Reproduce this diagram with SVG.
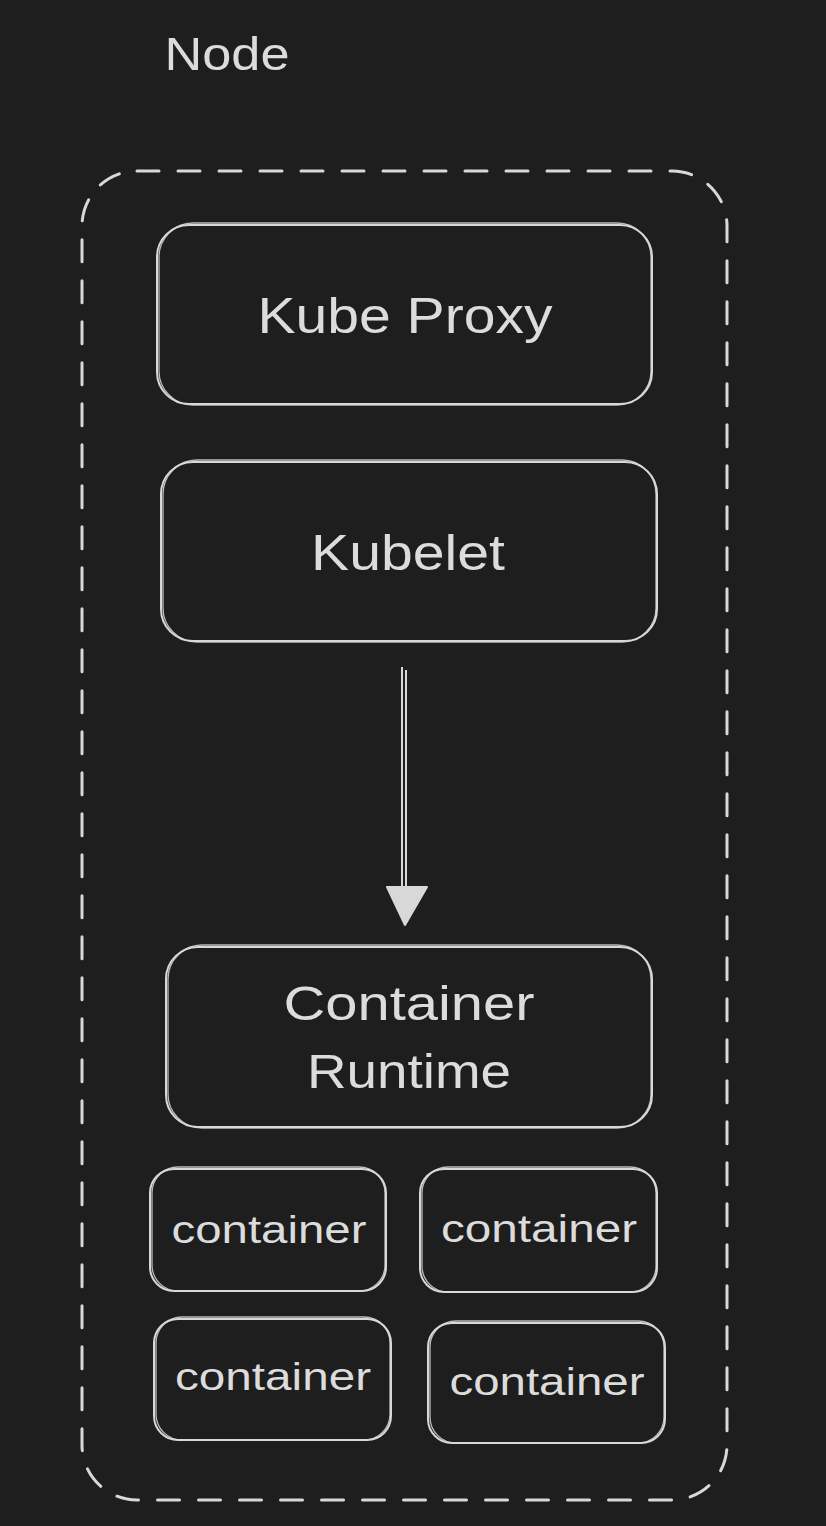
<svg xmlns="http://www.w3.org/2000/svg" width="826" height="1526" viewBox="0 0 826 1526">
<defs>
<style>
.bg{fill:#1e1e1e}
.box{fill:none;stroke:#d8d8d8;stroke-width:2}
.box2{fill:none;stroke:#d8d8d8;stroke-width:1.3;opacity:0.85}
.dash{fill:none;stroke:#d8d8d8;stroke-width:3;stroke-dasharray:22 19;stroke-linecap:round}
.t{fill:#dcdcdc;font-family:"Liberation Sans",Arial,sans-serif;text-anchor:middle}
.big{font-size:50px}
.small{font-size:38px}
.line{stroke:#d8d8d8;stroke-width:2;fill:none}
.head{fill:#d8d8d8;stroke:#d8d8d8;stroke-width:2;stroke-linejoin:round}
</style>
</defs>
<rect class="bg" x="0" y="0" width="826" height="1526"/>
<g id="label-node">
<text class="t" x="227" y="70" font-size="46" textLength="125" lengthAdjust="spacingAndGlyphs">Node</text>
</g>
<g id="node-frame">
<rect class="dash" x="82" y="171" width="645" height="1329" rx="55"/>
</g>
<g id="kube-proxy">
<rect class="box" x="157" y="225" width="495" height="179" rx="32"/>
<rect class="box2" x="159" y="223" width="492" height="182" rx="34"/>
<text class="t big" x="405" y="333" textLength="295" lengthAdjust="spacingAndGlyphs">Kube Proxy</text>
</g>
<g id="kubelet">
<rect class="box" x="161" y="462" width="496" height="179" rx="32"/>
<rect class="box2" x="163" y="460" width="493" height="182" rx="34"/>
<text class="t big" x="408" y="570" textLength="194" lengthAdjust="spacingAndGlyphs">Kubelet</text>
</g>
<g id="container-runtime">
<rect class="box" x="166" y="947" width="486" height="180" rx="32"/>
<rect class="box2" x="168" y="945" width="483" height="183" rx="34"/>
<text class="t" font-size="48" x="409" y="1020" textLength="251" lengthAdjust="spacingAndGlyphs">Container</text>
<text class="t" font-size="48" x="409" y="1088" textLength="204" lengthAdjust="spacingAndGlyphs">Runtime</text>
</g>
<g id="container-1">
<rect class="box" x="150" y="1169" width="236" height="122" rx="24"/>
<rect class="box2" x="152" y="1167" width="233" height="124" rx="26"/>
<text class="t small" x="269" y="1243" textLength="195" lengthAdjust="spacingAndGlyphs">container</text>
</g>
<g id="container-2">
<rect class="box" x="420" y="1169" width="237" height="123" rx="24"/>
<rect class="box2" x="422" y="1167" width="234" height="125" rx="26"/>
<text class="t small" x="539" y="1242" textLength="196" lengthAdjust="spacingAndGlyphs">container</text>
</g>
<g id="container-3">
<rect class="box" x="154" y="1319" width="237" height="121" rx="24"/>
<rect class="box2" x="156" y="1317" width="234" height="123" rx="26"/>
<text class="t small" x="273" y="1390" textLength="196" lengthAdjust="spacingAndGlyphs">container</text>
</g>
<g id="container-4">
<rect class="box" x="428" y="1323" width="237" height="120" rx="24"/>
<rect class="box2" x="430" y="1321" width="234" height="122" rx="26"/>
<text class="t small" x="547" y="1395" textLength="195" lengthAdjust="spacingAndGlyphs">container</text>
</g>
<g id="connectors">
<line class="line" x1="402" y1="667" x2="402" y2="890"/>
<line class="line" x1="406" y1="670" x2="406" y2="890"/>
<polygon class="head" points="387,887 427,887 405,925"/>
</g>
</svg>
